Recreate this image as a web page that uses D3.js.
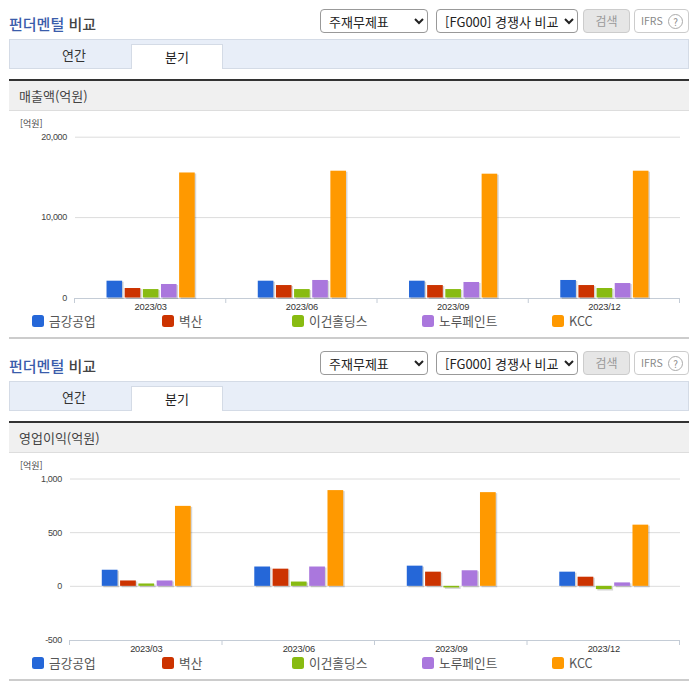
<!DOCTYPE html>
<html lang="ko"><head><meta charset="utf-8">
<script src="https://cdn.jsdelivr.net/npm/d3@7/dist/d3.min.js"></script>
<style>
html,body{margin:0;padding:0;background:#fff;overflow:hidden}
body{width:696px;height:684px;position:relative;font-family:"Noto Sans CJK KR","Noto Sans",sans-serif;color:#333}
.abs{position:absolute;box-sizing:border-box}
select{font:13px "Noto Sans CJK KR",sans-serif;color:#222;background:#fff;border:1px solid #999;border-radius:4px;padding:0 0 0 4px;height:24px}
svg{position:absolute;left:0;top:0}
</style></head><body>
<div id="root"></div>
<script>
const categories = ["2023/03","2023/06","2023/09","2023/12"];
const seriesNames = ["금강공업","벽산","이건홀딩스","노루페인트","KCC"];
const seriesColors = ["#2567d8","#cc3300","#88bb11","#aa77dd","#ff9900"];
const revenue금강공업 = [2090,2090,2090,2180];
const revenue벽산 = [1180,1550,1550,1550];
const revenue이건홀딩스 = [1050,1050,1050,1180];
const revenue노루페인트 = [1680,2180,1930,1800];
const revenueKCC = [15550,15770,15400,15770];
const profit금강공업 = [150,180,188,132];
const profit벽산 = [50,160,132,85];
const profit이건홀딩스 = [22,40,-15,-30];
const profit노루페인트 = [50,180,145,32];
const profitKCC = [745,892,873,570];
const revenueTicks = [0,10000,20000];
const profitTicks = [-500,0,500,1000];
const sections = [
 {top:0,title:"매출액(억원)",rows:[revenue금강공업,revenue벽산,revenue이건홀딩스,revenue노루페인트,revenueKCC],domain:[0,20000],ticks:revenueTicks,left:75,yTop:136.7,yBot:297.5},
 {top:342,title:"영업이익(억원)",rows:[profit금강공업,profit벽산,profit이건홀딩스,profit노루페인트,profitKCC],domain:[-500,1000],ticks:profitTicks,left:70,yTop:136.5,yBot:297.5}
];
const root = d3.select("#root");
function box(l,t,w,h,css,txt){
  const d=root.append("div").attr("class","abs").attr("style",`left:${l}px;top:${t}px;width:${w}px;height:${h}px;${css}`);
  if(txt) d.text(txt); return d;
}
const svg = d3.select("body").append("svg").attr("width",696).attr("height",684);
const fmt = v=>d3.format(",")(v).replace("−","-");
sections.forEach(s=>{
  const T=s.top;
  const h=box(9,T+14,200,20,"font-size:15px;font-weight:500;line-height:20px;color:#444");
  h.append("span").style("color","#3a5cab").text("펀더멘털");
  h.append("span").text(" 비교");
  const s1=root.append("select").attr("class","abs").attr("style",`left:320px;top:${T+9}px;width:108px`);
  s1.append("option").text("주재무제표");
  const s2=root.append("select").attr("class","abs").attr("style",`left:436px;top:${T+9}px;width:142px`);
  s2.append("option").text("[FG000] 경쟁사 비교");
  box(583,T+9,47,24,"background:#e6e6e6;border:1px solid #ccc;border-radius:4px;color:#999;font-size:12px;text-align:center;line-height:21px","검색");
  box(634,T+9,55,24,"background:#fff;border:1px solid #ccc;border-radius:4px;color:#888;font-size:10.5px;line-height:22px;padding-left:6px","IFRS");
  box(668,T+14,15,15,"border:1px solid #aaa;border-radius:50%;color:#888;font-size:10px;line-height:13px;text-align:center","?");
  box(10,T+40,128,28,"font-size:13px;text-align:center;line-height:29px;color:#333;z-index:1","연간");
  box(9,T+39,680,30,"background:#e8eef8;border:1px solid #d4dbe6");
  box(131,T+44,92,25,"background:#fff;border:1px solid #d4dbe6;border-bottom:none;font-size:13px;text-align:center;line-height:24px;color:#222","분기");
  box(9,T+79,680,2,"background:#333");
  box(9,T+81,680,30,`background:#f0f0f0;border-bottom:1px solid #ddd;font-size:13px;line-height:29px;padding-left:10px;color:#444`,s.title);
  box(9,T+337,680,2,"background:#ccc");

  const g=svg.append("g").attr("transform",`translate(0,${T})`);
  const y=d3.scaleLinear().domain(s.domain).range([s.yBot,s.yTop]);
  const x0=d3.scaleBand().domain(categories).range([s.left,680]);
  const b=x0.bandwidth();
  const x1=d3.scaleBand().domain(seriesNames).range([b*.2,b*.8]).paddingInner(.14).paddingOuter(.07);
  g.append("text").attr("x",20).attr("y",127).attr("font-size",9).attr("fill","#444").text("[억원]");
  const axisBottomY = y(s.domain[0]);
  const yAxis=d3.axisLeft(y).tickValues(s.ticks).tickSize(0).tickPadding(0).tickFormat(fmt);
  const ya=g.append("g").attr("transform",`translate(${s.left-8},0)`).call(yAxis);
  ya.select(".domain").remove();
  ya.selectAll("text").attr("font-size",9).attr("letter-spacing","-.3px").attr("fill","#444").attr("font-family","Liberation Sans,sans-serif");
  g.selectAll(".gl").data(s.ticks.filter(t=>t!==s.domain[0])).join("line")
    .attr("x1",s.left).attr("x2",680).attr("y1",d=>y(d)+.5).attr("y2",d=>y(d)+.5).attr("stroke","#dcdcdc");
  const xAxis=d3.axisBottom(x0).tickSize(0).tickPadding(5);
  const xa=g.append("g").attr("transform",`translate(0,${Math.round(axisBottomY)+.5})`).call(xAxis);
  xa.select(".domain").attr("stroke","#c4ccd6").attr("d",`M${s.left},0H680`);
  xa.selectAll("text").attr("font-size",9.3).attr("letter-spacing","-.2px").attr("fill","#333").attr("font-family","Liberation Sans,sans-serif");
  g.selectAll(".tk").data(categories.map(c=>x0(c)).concat([680])).join("line")
    .attr("x1",d=>d-.5).attr("x2",d=>d-.5).attr("y1",Math.round(axisBottomY)).attr("y2",Math.round(axisBottomY)+5).attr("stroke","#c4ccd6");
  seriesNames.forEach((n,i)=>{
    const bars=g.append("g");
    const data=categories.map((c,j)=>({c,v:s.rows[i][j]}));
    bars.selectAll("rect.sh").data(data).join("rect")
      .attr("x",d=>x0(d.c)+x1(n)+1.5).attr("width",x1.bandwidth())
      .attr("y",d=>Math.min(y(d.v),y(0))+1).attr("height",d=>Math.abs(y(d.v)-y(0))+.5)
      .attr("fill","#000").attr("opacity",.16);
    bars.selectAll("rect.b").data(data).join("rect")
      .attr("x",d=>x0(d.c)+x1(n)).attr("width",x1.bandwidth())
      .attr("y",d=>Math.min(y(d.v),y(0))).attr("height",d=>Math.abs(y(d.v)-y(0)))
      .attr("fill",seriesColors[i]);
  });
  const lx=d3.scalePoint().domain(seriesNames).range([32,552]);
  const lg=g.selectAll(".lg").data(seriesNames).join("g").attr("transform",d=>`translate(${lx(d)},315)`);
  lg.append("rect").attr("width",12).attr("height",12).attr("rx",2.5).attr("fill",(d,i)=>seriesColors[i]);
  lg.append("text").attr("x",17).attr("y",11).attr("font-size",12.7).attr("fill","#555").text(d=>d);
});
</script></body></html>
